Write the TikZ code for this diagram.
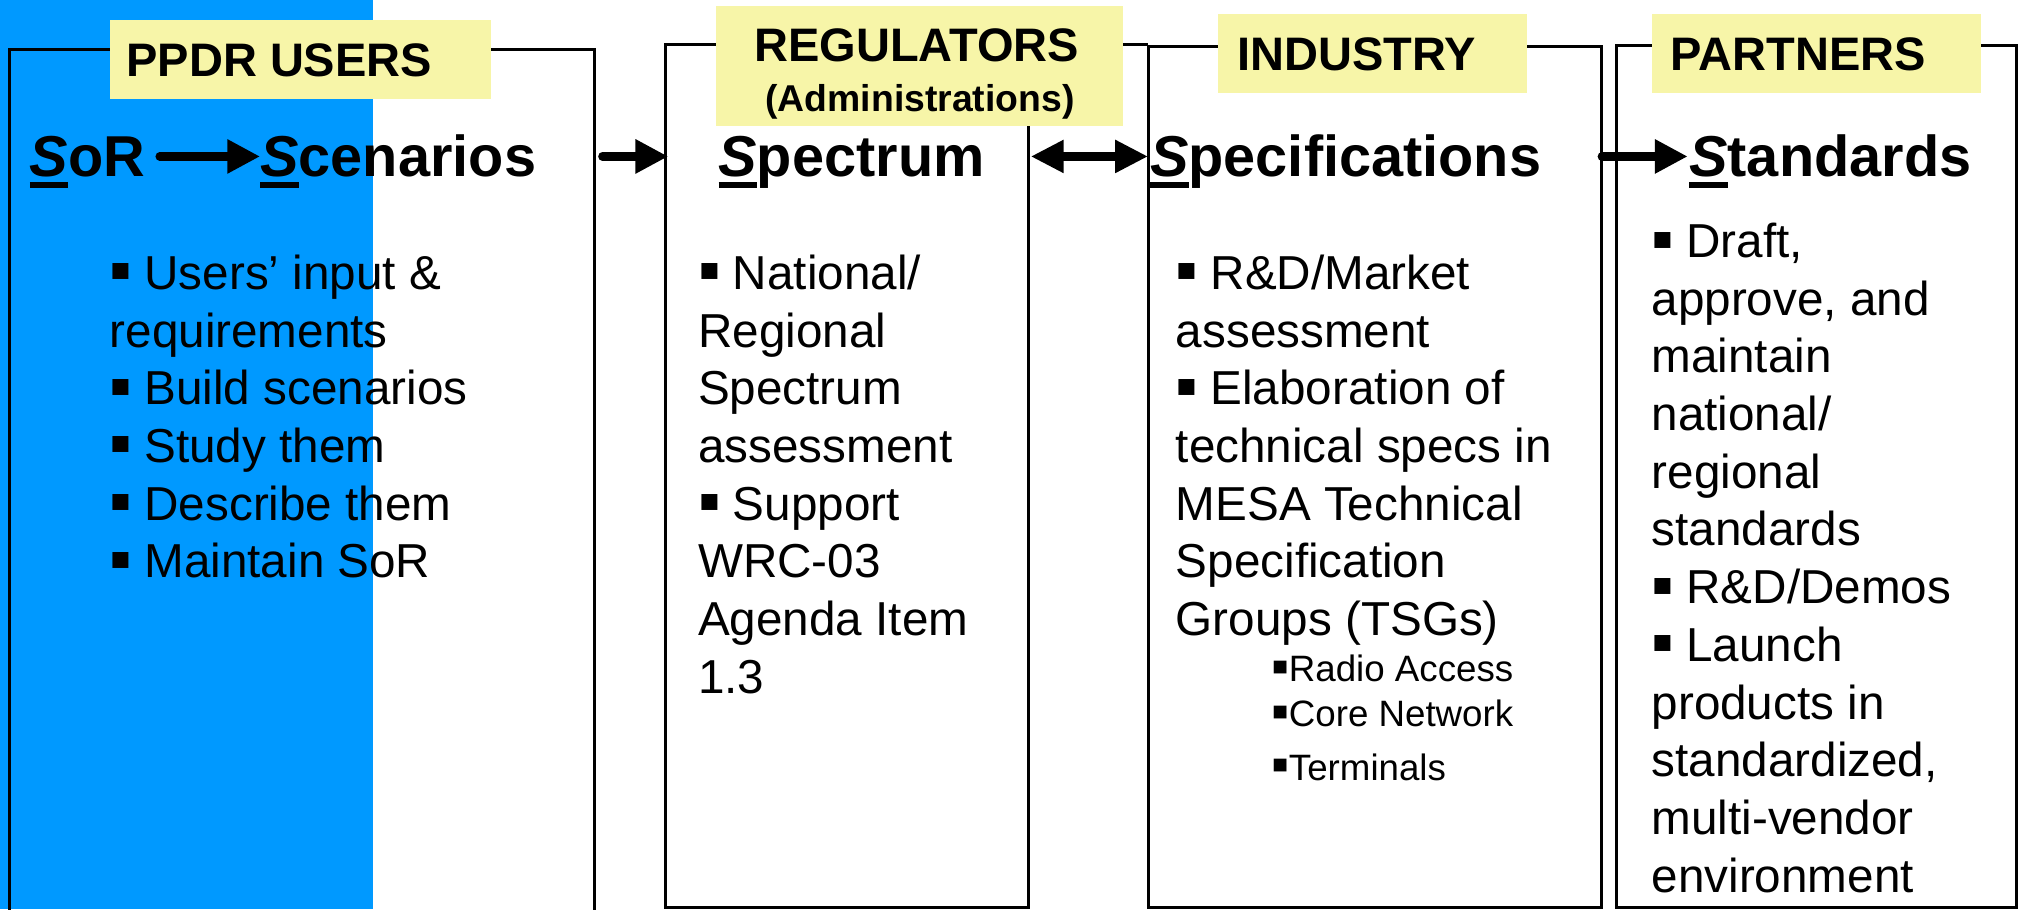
\documentclass[tikz,border=0pt]{standalone}
\usepackage{fontspec}
\usepackage{graphicx}
\setmainfont{Liberation Sans}
\usetikzlibrary{arrows.meta}
\definecolor{ppblue}{RGB}{0,153,255}
\definecolor{lblyellow}{RGB}{247,245,168}
\newcommand\ulS[1]{\setbox0\hbox{\itshape #1}\rlap{\smash{\rule[-8.7pt]{\wd0}{4.4pt}}}\box0}
\newcommand\bul{\makebox[27pt][l]{\smash{\raisebox{-2pt}{\scalebox{1.35}{▪}}}}}
\newcommand\sbul{\makebox[13.3pt][l]{\smash{\raisebox{-1.5pt}{\scalebox{1.4}{▪}}}}}
\begin{document}
\begin{tikzpicture}[x=1pt,y=-1pt,
  frame/.style={draw=black, line width=2.4pt},
  lblbox/.style={fill=lblyellow, inner sep=0pt, anchor=north west},
  lbltxt/.style={inner sep=0pt, font=\fontsize{36.5}{40}\selectfont\bfseries},
  subtxt/.style={inner sep=0pt, font=\fontsize{29}{32}\selectfont\bfseries},
  head/.style={inner sep=0pt, anchor=base west, font=\fontsize{44.8}{50}\selectfont\bfseries},
  body/.style={inner sep=0pt, anchor=base west, font=\fontsize{37}{44.8}\selectfont},
  small/.style={inner sep=0pt, anchor=base west, font=\fontsize{28.5}{32}\selectfont},
  arr/.style={line width=6.5pt, line cap=round, -{Triangle[length=25.5pt,width=25pt]}},
  darr/.style={line width=6.5pt, {Triangle[length=25.5pt,width=24pt]}-{Triangle[length=25.5pt,width=24pt]}}
]
\useasboundingbox (0,0) rectangle (1568,706);
\fill[ppblue] (0,0) rectangle (290,706);

% frames
\coordinate (b1tl) at (7.6,38.3);
\coordinate (b1tr) at (461.8,38.3);
\coordinate (b1bl) at (7.6,720);
\coordinate (b1br) at (461.8,720);
\draw[frame] (b1bl) -- (b1tl) -- (b1tr) -- (b1br);

\coordinate (b2tl) at (517,34.7);
\coordinate (b2br) at (799,704.5);
\draw[frame] (b2tl) rectangle (b2br);

\coordinate (b3tl) at (891.6,35.8);
\coordinate (b3br) at (1244,704.5);
\draw[frame] (b2br |- b2tl) -- (b3tl |- b2tl);
\draw[frame] (b3tl) rectangle (b3br);

\coordinate (b4tl) at (1255.6,35.2);
\coordinate (b4br) at (1566,704.5);
\draw[frame] (b4tl) rectangle (b4br);

% labels
\node[lblbox, minimum width=296pt, minimum height=61pt] (l1) at (85,15.5) {};
\node[lbltxt, anchor=base west] (l1t) at (98,59.5) {PPDR USERS};
\node[lblbox, minimum width=316pt, minimum height=93.3pt] (l2) at (556,4.7) {};
\node[lbltxt, anchor=base] (l2t) at (712,47.9) {REGULATORS};
\node[subtxt, anchor=base] (l2s) at (714.5,86.7) {(Administrations)};
\node[lblbox, minimum width=240pt, minimum height=61pt] (l3) at (946,11) {};
\node[lbltxt, anchor=base west] (l3t) at (961,54.9) {INDUSTRY};
\node[lblbox, minimum width=255pt, minimum height=61pt] (l4) at (1283,11) {};
\node[lbltxt, anchor=base west] (l4t) at (1297.3,54.9) {PARTNERS};

% headings
\node[head] (sor) at (23,137.2) {\ulS{S}oR};
\node[head] (scen) at (202,137.2) {\ulS{S}cenarios};
\node[head] (spec) at (557.8,137.2) {\ulS{S}pectrum};
\node[head] (specs) at (893,137.2) {\ulS{S}pecifications};
\node[head] (stand) at (1311.7,137.2) {\ulS{S}tandards};

% arrows
\coordinate (ay) at (0,121.5);
\draw[arr] ([xshift=11pt]sor.east |- ay) -- (scen.west |- ay);
\draw[arr] ([xshift=6pt]b1tr |- ay) -- ([xshift=2pt]b2tl |- ay);
\draw[darr] ([xshift=1.5pt]b2br |- ay) -- (b3tl |- ay);
\draw[arr] (b3br |- ay) -- ([xshift=-1pt]stand.west |- ay);

% body texts
\foreach \t [count=\i] in {\bul Users’ input \&, requirements, \bul Build scenarios, \bul Study them, \bul Describe them, \bul Maintain SoR}
  \node[body] (ca\i) at (85,{224.7+44.8*(\i-1)}) {\t};
\foreach \t [count=\i] in {\bul National/, Regional, Spectrum, assessment, \bul Support, WRC-03, Agenda Item, 1.3}
  \node[body] (cb\i) at (542,{224.7+44.8*(\i-1)}) {\t};
\foreach \t [count=\i] in {\bul R\&D/Market, assessment, \bul Elaboration of, technical specs in, MESA Technical, Specification, Groups (TSGs)}
  \node[body] (cc\i) at (913,{224.7+44.8*(\i-1)}) {\t};
\node[small] (cs1) at (987.5,529.4) {\sbul Radio Access};
\node[small] (cs2) at (987.5,564.4) {\sbul Core Network};
\node[small] (cs3) at (987.5,605.8) {\sbul Terminals};
\foreach \t [count=\i] in {{\bul Draft,}, {approve, and}, maintain, national/, regional, standards, \bul R\&D/Demos, \bul Launch, products in, {standardized,}, multi-vendor, environment}
  \node[body] (cd\i) at (1282.5,{200+44.8*(\i-1)}) {\t};
\end{tikzpicture}
\end{document}
